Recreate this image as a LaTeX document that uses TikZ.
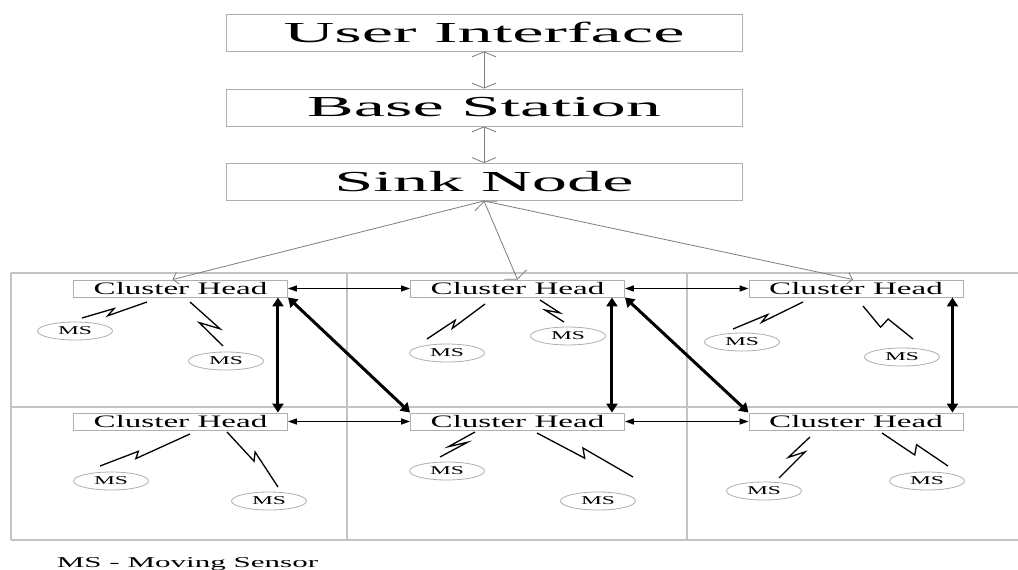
\documentclass[tikz,border=0pt]{standalone}
\usepackage{fontspec}
\setmainfont{Liberation Serif}
\usepackage{graphicx}
\usetikzlibrary{arrows.meta,calc,shapes.geometric}
\definecolor{gridgray}{RGB}{195,195,195}
\definecolor{boxgray}{RGB}{175,175,175}
\definecolor{linegray}{RGB}{125,125,125}
\newcommand\bigtxt[1]{\scalebox{2.43}[1]{\fontsize{29}{29}\selectfont #1}}
\newcommand\chtxt{\scalebox{1.89}[1]{\fontsize{17.5}{17.5}\selectfont Cluster Head}}
\newcommand\mstxt{\scalebox{1.96}[1]{\fontsize{12}{12}\selectfont MS}}
\newcommand\bolt[6]{\draw[boltline] #1 -- ($#1!#3!#2!#4pt!90:#2$) -- ($#1!#5!#2!#6pt!90:#2$) -- #2;}
\tikzset{
  wbarb/.tip={Straight Barb[length=5pt,width=24pt]},
  sbarb/.tip={Straight Barb[length=5pt,width=12pt]},
  btri/.tip={Triangle[length=9pt,width=6pt]},
  ttri/.tip={Triangle[length=9pt,width=11pt]}
}
\begin{document}
\begin{tikzpicture}[x=1pt,y=-1pt,
  topbox/.style={draw=boxgray, line width=0.9pt, minimum width=516pt, minimum height=37pt, inner sep=0pt},
  chbox/.style={draw=boxgray, line width=0.9pt, minimum width=214pt, minimum height=17pt, inner sep=0pt},
  ms/.style={ellipse, draw=boxgray, line width=0.8pt, minimum width=75pt, minimum height=18pt, inner sep=0pt},
  gridline/.style={draw=gridgray, line width=1.2pt},
  grayarr/.style={draw=linegray, line width=0.8pt},
  harr/.style={line width=1.3pt, btri-btri},
  tarr/.style={line width=3pt, ttri-ttri},
  boltline/.style={line width=1.3pt, line join=miter}
]
\useasboundingbox (0,0) rectangle (1018,570);
\fill[white] (0,0) rectangle (1018,570);

% grid
\draw[gridline] (11,273) -- (1018,273);
\draw[gridline] (11,407) -- (1018,407);
\draw[gridline] (11,540) -- (1018,540);
\draw[gridline] (11,273) -- (11,540);
\draw[gridline] (347,273) -- (347,540);
\draw[gridline] (687,273) -- (687,540);

% top boxes
\node[topbox] (ui) at (484,32.5) {\bigtxt{User Interface}};
\node[topbox] (bs) at (484,107.5) {\bigtxt{Base Station}};
\node[topbox] (sink) at (484,182) {\bigtxt{Sink Node}};

% cluster heads
\node[chbox] (ch11) at (180.5,288.5) {\chtxt};
\node[chbox] (ch12) at (517.5,288.5) {\chtxt};
\node[chbox] (ch13) at (856,288.5) {\chtxt};
\node[chbox] (ch21) at (180.5,421.5) {\chtxt};
\node[chbox] (ch22) at (517.5,421.5) {\chtxt};
\node[chbox] (ch23) at (856,421.5) {\chtxt};

% moving sensors
\node[ms] (m11a) at (75,331) {\mstxt};
\node[ms] (m11b) at (226,361) {\mstxt};
\node[ms] (m12a) at (447,353) {\mstxt};
\node[ms] (m12b) at (568,336) {\mstxt};
\node[ms] (m13a) at (742,342) {\mstxt};
\node[ms] (m13b) at (902,357) {\mstxt};
\node[ms] (m21a) at (111,481) {\mstxt};
\node[ms] (m21b) at (269,501) {\mstxt};
\node[ms] (m22a) at (447,471) {\mstxt};
\node[ms] (m22b) at (598,501) {\mstxt};
\node[ms] (m23a) at (764,491) {\mstxt};
\node[ms] (m23b) at (927,481) {\mstxt};

% gray connectors
\draw[grayarr, wbarb-wbarb] (ui.south) -- (bs.north);
\draw[grayarr, wbarb-wbarb] (bs.south) -- (sink.north);
\draw[grayarr, wbarb-wbarb] (sink.south) -- (ch12.north);
\draw[grayarr, -sbarb] (sink.south) -- ([xshift=-8pt]ch11.north);
\draw[grayarr, -sbarb] (sink.south) -- ([xshift=-3pt]ch13.north);

% horizontal arrows
\draw[harr] (ch11.east) -- (ch12.west);
\draw[harr] (ch12.east) -- (ch13.west);
\draw[harr] (ch21.east) -- (ch22.west);
\draw[harr] (ch22.east) -- (ch23.west);

% thick arrows
\draw[tarr] ([xshift=-10pt]ch11.south east) -- ([xshift=-10pt]ch21.north east);
\draw[tarr] ([xshift=-13pt]ch12.south east) -- ([xshift=-13pt]ch22.north east);
\draw[tarr] ([xshift=-11pt]ch13.south east) -- ([xshift=-11pt]ch23.north east);
\draw[tarr] (ch11.south east) -- (ch22.north west);
\draw[tarr] (ch12.south east) -- (ch23.north west);

% lightning links
\bolt{(82,318)}{(147,302)}{0.5}{1.5}{0.38}{-4}
\bolt{(190,302)}{(223,346)}{0.72}{8}{0.4}{-5}
\bolt{(427,339)}{(485,304)}{0.5}{1.5}{0.4}{-4}
\bolt{(540,300)}{(564,322)}{0.72}{4}{0.32}{-4}
\bolt{(733,329)}{(803,302)}{0.5}{1}{0.39}{-4}
\bolt{(863,306)}{(913,339)}{0.44}{-8}{0.47}{3}
\bolt{(100,466)}{(190,434)}{0.43}{1}{0.38}{-5}
\bolt{(227,432)}{(278,487)}{0.53}{0}{0.45}{7}
\bolt{(440,457)}{(475,432)}{0.72}{-4}{0.3}{3.5}
\bolt{(537,433)}{(633,477)}{0.51}{-3}{0.455}{5.5}
\bolt{(779,478)}{(810,437)}{0.71}{-5}{0.43}{5}
\bolt{(882,433)}{(948,466)}{0.53}{-5}{0.49}{5}

% legend
\node[anchor=base, inner sep=0pt] (legend) at (187.5,567) {\scalebox{2.07}[1]{\fontsize{15}{15}\selectfont MS - Moving Sensor}};
\end{tikzpicture}
\end{document}
